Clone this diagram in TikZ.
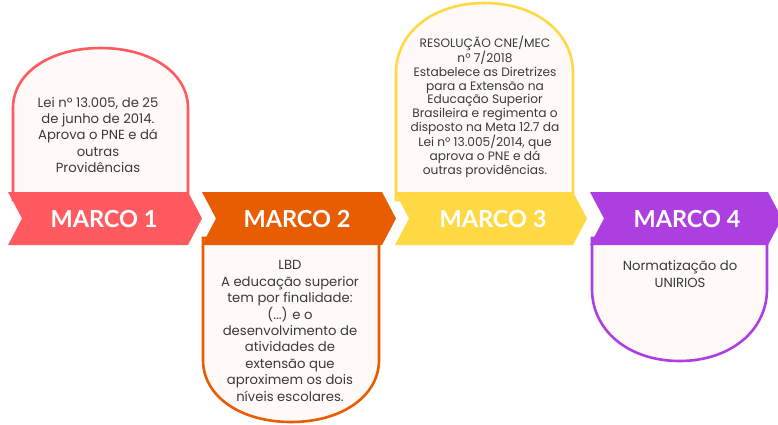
\documentclass[tikz,border=0pt]{standalone}
\usepackage{fontspec}
\setmainfont{Poppins}
\newfontfamily\labelfont{Lato}
\definecolor{cA}{HTML}{FF5A5F}
\definecolor{cB}{HTML}{E85C02}
\definecolor{cC}{HTML}{FFD944}
\definecolor{cD}{HTML}{AD3FE0}
\definecolor{cardfill}{HTML}{FFF9F8}
\definecolor{txt}{HTML}{3A3A3A}
\tikzset{
  cardline/.style={line width=2.6pt, fill=cardfill},
  marco/.style={text=white, font=\labelfont\bfseries\fontsize{23.5}{26}\selectfont, inner sep=0pt},
  bodytxt/.style={text=txt, align=center, inner sep=0pt, font=\fontsize{13.2}{16.4}\selectfont},
  smalltxt/.style={text=txt, align=center, inner sep=0pt, font=\fontsize{12.2}{13.7}\selectfont},
}
% arch-topped card: colour, x0, x1, top, ry, bottom
\newcommand{\archtop}[6]{%
  \draw[cardline, draw=#1] (#2,#6) -- (#2,{#4+#5}) .. controls (#2,{#4+0.42*#5}) and ({(#2+#3)/2-0.58*(#3-#2)/2},#4) .. ({(#2+#3)/2},#4)
    .. controls ({(#2+#3)/2+0.58*(#3-#2)/2},#4) and (#3,{#4+0.42*#5}) .. (#3,{#4+#5}) -- (#3,#6) -- cycle;}
% arch-bottomed card: colour, x0, x1, bottom, ry, top
\newcommand{\archbot}[6]{%
  \draw[cardline, draw=#1] (#2,#6) -- (#2,{#4-#5}) .. controls (#2,{#4-0.42*#5}) and ({(#2+#3)/2-0.58*(#3-#2)/2},#4) .. ({(#2+#3)/2},#4)
    .. controls ({(#2+#3)/2+0.58*(#3-#2)/2},#4) and (#3,{#4-0.42*#5}) .. (#3,{#4-#5}) -- (#3,#6) -- cycle;}
% band: colour, xL, xR
\newcommand{\band}[3]{%
  \fill[#1] (#2,192) -- (#3,192) -- ({#3+14},218.5) -- (#3,245) -- (#2,245) -- ({#2+14},218.5) -- cycle;}
\begin{document}
\begin{tikzpicture}[x=1pt,y=-1pt]
\useasboundingbox (0,0) rectangle (778,424);
\fill[white] (0,0) rectangle (778,424);
\clip (0,0) rectangle (778,424);
% cards
\archtop{cA}{13}{188}{48}{60}{200}
\archtop{cC}{396}{573}{3}{70}{200}
\archbot{cB}{203}{379}{422}{62}{238}
\archbot{cD}{592}{767}{361}{72}{238}
% bands
\band{cA}{8}{188}
\band{cB}{202}{382}
\band{cC}{395}{573}
\band{cD}{590}{768}
% labels
\node[marco] (m1) at (104,218.5) {MARCO 1};
\node[marco] (m2) at (297,218.5) {MARCO 2};
\node[marco] (m3) at (493,218.5) {MARCO 3};
\node[marco] (m4) at (687,218.5) {MARCO 4};
% texts
\node[bodytxt] (t1) at (98,135) {Lei nº 13.005, de 25\\de junho de 2014.\\Aprova o PNE e dá\\outras\\Providências};
\node[bodytxt] (t2) at (290,331) {LBD\\A educação superior\\tem por finalidade:\\(...) e o\\desenvolvimento de\\atividades de\\extensão que\\aproximem os dois\\níveis escolares.};
\node[smalltxt] (t3) at (485,106.5) {RESOLUÇÃO CNE/MEC\\nº 7/2018\\Estabelece as Diretrizes\\para a Extensão na\\Educação Superior\\Brasileira e regimenta o\\disposto na Meta 12.7 da\\Lei nº 13.005/2014, que\\aprova o PNE e dá\\outras providências.};
\node[bodytxt] (t4) at (680,274) {Normatização do\\UNIRIOS};
\end{tikzpicture}
\end{document}
